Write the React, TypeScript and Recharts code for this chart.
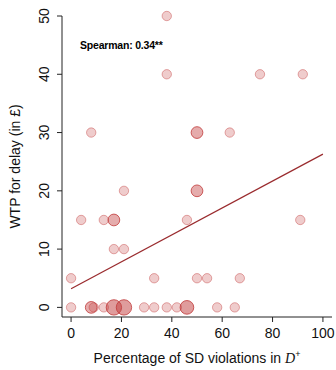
import React from 'react';
import {
  ScatterChart,
  Scatter,
  XAxis,
  YAxis,
  ZAxis,
  Cell,
  ReferenceLine,
} from 'recharts';

// violation share (%) and WTP (£); n = number of subjects at that point
const violations = [38, 38, 75, 92, 8, 50, 63, 21, 50, 4, 13, 17, 46, 91, 17, 21, 0, 33, 50, 54, 67, 0, 8, 9, 13, 17, 21, 29, 33, 38, 42, 46, 58, 65];
const wtp = [50, 40, 40, 40, 30, 30, 30, 20, 20, 15, 15, 15, 15, 15, 10, 10, 5, 5, 5, 5, 5, 0, 0, 0, 0, 0, 0, 0, 0, 0, 0, 0, 0, 0];
const counts = [1, 1, 1, 1, 1, 2, 1, 1, 2, 1, 1, 2, 1, 1, 1, 1, 1, 1, 1, 1, 1, 1, 2, 1, 1, 4, 4, 1, 1, 1, 1, 3, 1, 1];

const xTicks = [0, 20, 40, 60, 80, 100];
const yTicks = [0, 10, 20, 30, 40, 50];

// fitted line end points
const fitStart = { x: 0, y: 3.2 };
const fitEnd = { x: 100, y: 26.3 };

const points = violations.map((v, i) => ({ x: v, y: wtp[i], n: counts[i] }));

const FONT = '"Liberation Sans", Arial, sans-serif';
const RED = '#c03939';

const YTick = (props: any) => {
  const { x, y, payload } = props;
  return (
    <text
      x={x - 11}
      y={y}
      transform={`rotate(-90 ${x - 11} ${y})`}
      textAnchor="middle"
      dominantBaseline="central"
      fontSize={14}
      fontFamily={FONT}
      fill="#111"
    >
      {payload.value}
    </text>
  );
};

const XTitle = (props: any) => {
  const { viewBox } = props;
  const cx = viewBox.x + viewBox.width / 2;
  return (
    <text x={cx} y={363} textAnchor="middle" fontSize={14} fontFamily={FONT} fill="#111">
      Percentage of SD violations in{' '}
      <tspan fontStyle="italic" fontFamily='"Liberation Serif", serif'>D</tspan>
      <tspan fontSize={9} dy={-6}>+</tspan>
    </text>
  );
};

export default function App() {
  return (
    <div style={{ position: 'absolute', left: 0, top: 0, width: 336, height: 370, background: '#fff' }}>
      <ScatterChart width={336} height={370} margin={{ top: 16, right: 4, left: 0, bottom: 0 }}>
        <XAxis
          type="number"
          dataKey="x"
          domain={[-3.6, 103.6]}
          ticks={xTicks}
          height={53}
          tickSize={5}
          tickMargin={6}
          stroke="#222"
          tick={{ fontSize: 14, fontFamily: FONT, fill: '#111' }}
          label={<XTitle />}
        />
        <YAxis
          type="number"
          dataKey="y"
          domain={[-1.65, 50]}
          ticks={yTicks}
          width={62}
          tickSize={5}
          stroke="#222"
          tick={<YTick />}
          label={{
            value: 'WTP for delay (in £)',
            angle: -90,
            position: 'insideLeft',
            dx: 10,
            style: { fontSize: 14, fontFamily: FONT, fill: '#111', textAnchor: 'middle' },
          }}
        />
        <ZAxis type="number" dataKey="n" domain={[1, 4]} range={[69, 186]} />
        <Scatter data={points} isAnimationActive={false} fill={RED} stroke={RED} strokeWidth={1}>
          {points.map((p, i) => (
            <Cell
              key={`pt-${i}`}
              fill={RED}
              fillOpacity={p.n === 1 ? 0.26 : p.n === 2 ? 0.42 : 0.5}
              stroke={RED}
              strokeOpacity={p.n === 1 ? 0.42 : 0.8}
            />
          ))}
        </Scatter>
        <ReferenceLine segment={[fitStart, fitEnd]} stroke="#9a2b2e" strokeWidth={1.2} />
      </ScatterChart>
      <div
        style={{
          position: 'absolute',
          left: 80,
          top: 39,
          fontFamily: FONT,
          fontWeight: 'bold',
          fontSize: 10.5,
          lineHeight: '12px',
          letterSpacing: -0.2,
          color: '#000',
          whiteSpace: 'nowrap',
        }}
      >
        Spearman: 0.34**
      </div>
    </div>
  );
}
